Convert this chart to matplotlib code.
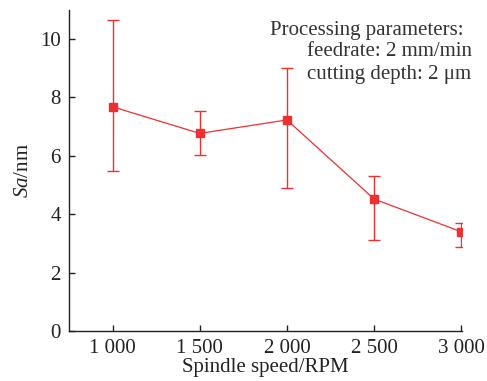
import matplotlib
matplotlib.use("Agg")
import matplotlib.pyplot as plt
import numpy as np

speeds = [1000, 1500, 2000, 2500, 3000]
sa = [7.68, 6.77, 7.23, 4.52, 3.40]
err_upper = [10.65, 7.53, 9.00, 5.32, 3.70]
err_lower = [5.48, 6.03, 4.89, 3.12, 2.87]
tick_labels = ["1 000", "1 500", "2 000", "2 500", "3 000"]
yticks = [0, 2, 4, 6, 8, 10]

plt.rcParams['font.family'] = ['Liberation Serif', 'DejaVu Serif']
plt.rcParams['mathtext.fontset'] = 'custom'
plt.rcParams['mathtext.rm'] = 'Liberation Serif'
plt.rcParams['mathtext.it'] = 'Liberation Serif:italic'

fig = plt.figure(figsize=(4.87, 3.81), dpi=100)
ax = fig.add_axes([0.1417, 0.1312, 0.8063, 0.8428])

red = '#ee3030'
yerr = np.array([np.array(sa) - np.array(err_lower), np.array(err_upper) - np.array(sa)])
ax.errorbar(speeds, sa, yerr=yerr, color=red, ecolor=red, elinewidth=1.0, capsize=4,
            capthick=1.0, marker='s', markersize=5.5, linewidth=0.9)

ax.set_xlim(750, 3002)
ax.set_ylim(0, 11)
ax.set_xticks(speeds)
ax.set_xticklabels(tick_labels)
ax.set_yticks(yticks)
ax.spines['top'].set_visible(False)
ax.spines['right'].set_visible(False)
for s in ['left', 'bottom']:
    ax.spines[s].set_color('#222222')
    ax.spines[s].set_linewidth(1.0)
ax.tick_params(direction='in', length=4, width=1.0, colors='#222222', labelsize=15, pad=6)
ax.tick_params(axis='x', pad=6)

ax.set_xlabel('Spindle speed/RPM', fontsize=15, color='#222222', labelpad=0)
ax.set_ylabel(r'$\it{Sa}$/nm', fontsize=15, color='#222222', labelpad=5)

fig.text(270 / 487, 1 - 30 / 381, 'Processing parameters:', fontsize=15, color='#333333',
         ha='left', va='center')
fig.text(307 / 487, 1 - 52 / 381, 'feedrate: 2 mm/min', fontsize=15, color='#333333',
         ha='left', va='center')
fig.text(307 / 487, 1 - 75 / 381, 'cutting depth: 2 μm', fontsize=15, color='#333333',
         ha='left', va='center')

fig.savefig('out.png', dpi=100)
